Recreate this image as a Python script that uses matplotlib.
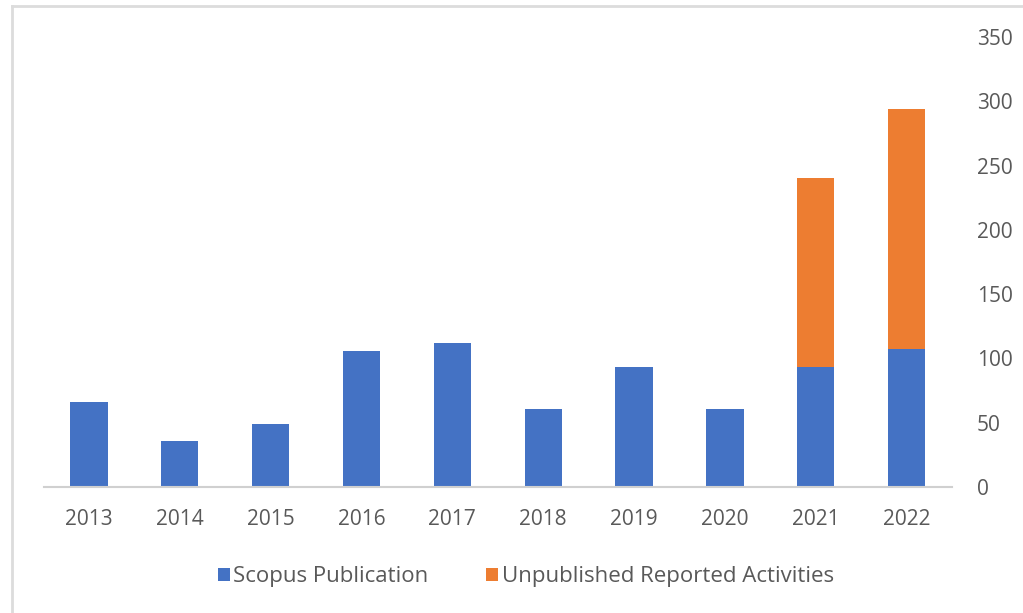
import matplotlib
matplotlib.use("Agg")
import matplotlib.pyplot as plt
from matplotlib.lines import Line2D
import numpy as np

years = ["2013", "2014", "2015", "2016", "2017", "2018", "2019", "2020", "2021", "2022"]
scopus = [66, 36, 49, 106, 112, 61, 93, 61, 93, 107]
unpublished = [0, 0, 0, 0, 0, 0, 0, 0, 147, 187]
yticks = [0, 50, 100, 150, 200, 250, 300, 350]

plt.rcParams['font.family'] = ['Open Sans', 'DejaVu Sans']

fig = plt.figure(figsize=(10.23, 6.13), dpi=100)
ax = fig.add_axes([0.0426, 0.2055, 0.888, 0.734])

x = np.arange(len(years))
ax.bar(x, scopus, width=0.41, color="#4472C4", label="Scopus Publication")
ax.bar(x, unpublished, width=0.41, bottom=scopus, color="#ED7D31",
       label="Unpublished Reported Activities")

ax.set_xlim(-0.5, len(years) - 0.5)
ax.set_ylim(0, 350)
ax.set_yticks(yticks)
ax.set_xticks(x)
ax.set_xticklabels(years)
ax.yaxis.tick_right()
for s in ["top", "left", "right"]:
    ax.spines[s].set_visible(False)
ax.spines["bottom"].set_color("#D0D0D0")
ax.spines["bottom"].set_linewidth(1.5)
ax.tick_params(axis="both", length=0, labelsize=15, colors="#595959")
ax.tick_params(axis="x", pad=16)
ax.tick_params(axis="y", pad=18)

leg = fig.legend(loc="center", bbox_to_anchor=(0.514, 0.059), ncol=2, frameon=False,
                 fontsize=16, handlelength=0.55, handleheight=0.55, columnspacing=2.6,
                 handletextpad=0.15)
for t in leg.get_texts():
    t.set_color("#595959")

# light frame on top and left edges
fig.add_artist(Line2D([12 / 1023, 1.0], [1 - 6 / 613, 1 - 6 / 613], transform=fig.transFigure,
                      color="#DCDCDC", linewidth=2))
fig.add_artist(Line2D([12 / 1023, 12 / 1023], [0.0, 1 - 6 / 613], transform=fig.transFigure,
                      color="#DCDCDC", linewidth=2))

fig.savefig("out.png", dpi=100)
